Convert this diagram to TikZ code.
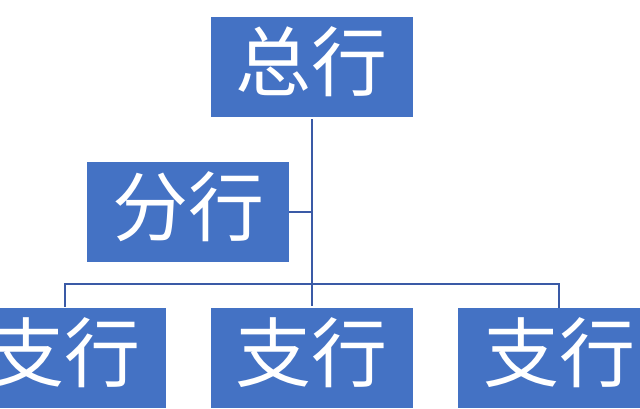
\documentclass[tikz,border=0pt]{standalone}
\usepackage{fontspec}
\newfontfamily\cjk{Noto Sans CJK SC}
\definecolor{boxblue}{HTML}{4472C4}
\definecolor{lineblue}{HTML}{3A5AA6}
\begin{document}
\begin{tikzpicture}[
    x=1pt, y=-1pt,
    bank/.style={rectangle,fill=boxblue,text=white,inner sep=0pt,
      minimum width=202pt,minimum height=100pt,
      text height=67pt,text depth=20pt,
      font=\cjk\fontsize{76}{80}\selectfont},
    link/.style={draw=lineblue,line width=2pt}
    ]
    \useasboundingbox (0,0) rectangle (640,408);
    \clip (0,0) rectangle (640,408);

    \node (hq) at (311.5, 67) [bank] {总行};
    \node (br) at (188, 212) [bank] {分行};
    \node (sub1) at (65, 358) [bank] {支行};
    \node (sub2) at (311.5, 358) [bank] {支行};
    \node (sub3) at (559, 358) [bank] {支行};
    \coordinate (fork) at (311.5, 284);
    \draw [link, shorten <=2pt, shorten >=2pt] (hq) to (sub2);
    \draw [link] (br.east) to (br.east -| hq);
    \draw [link, shorten <=1pt] (sub1.north) |- (fork) -| (sub3.north);

  \end{tikzpicture}
\end{document}
